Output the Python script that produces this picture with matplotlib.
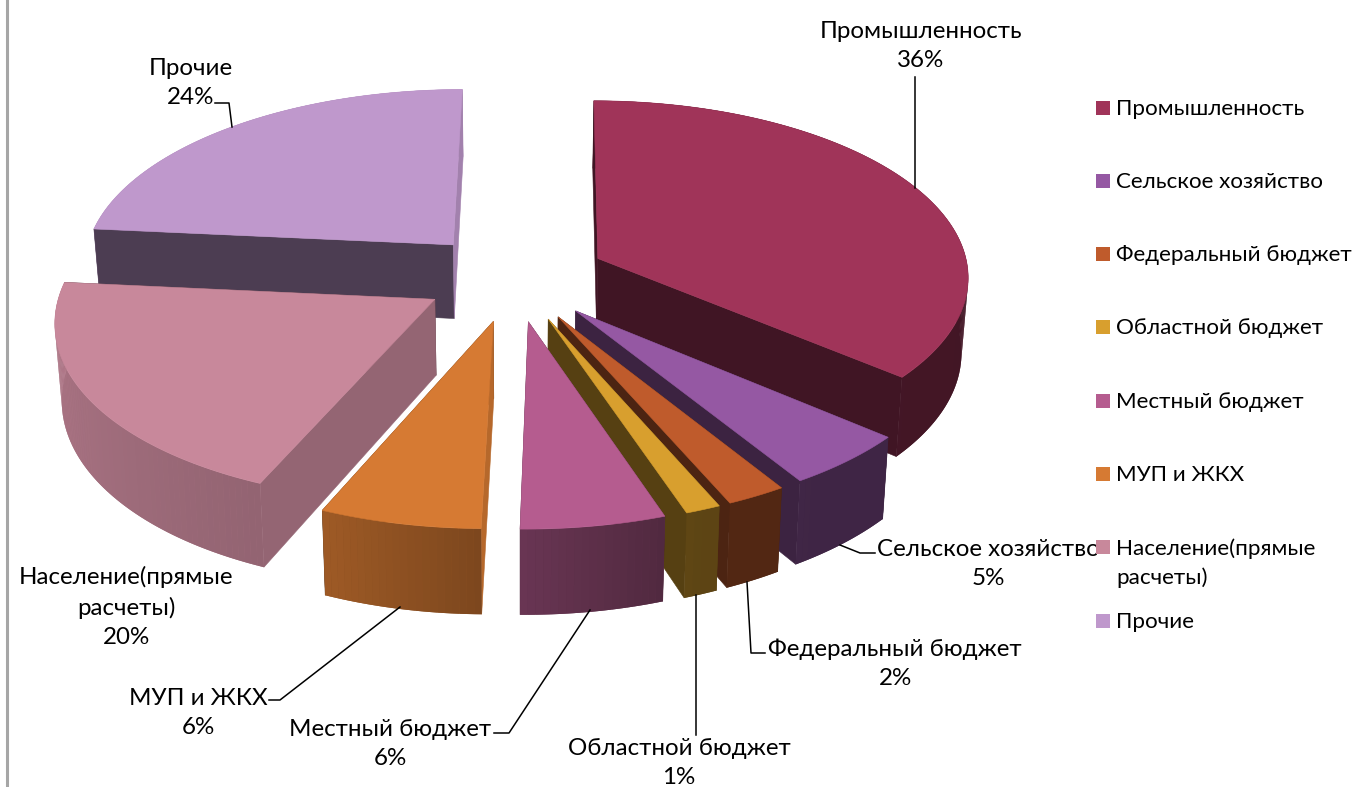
import numpy as np
import matplotlib
matplotlib.use("Agg")
import matplotlib.pyplot as plt
from matplotlib.patches import Polygon, Rectangle

plt.rcParams['font.family'] = ['Lato', 'Noto Sans', 'DejaVu Sans']

# data
names = ["Промышленность", "Сельское хозяйство", "Федеральный бюджет", "Областной бюджет",
         "Местный бюджет", "МУП и ЖКХ", "Население(прямые\nрасчеты)", "Прочие"]
values = [36.1, 4.9, 2.3, 1.35, 5.55, 6.2, 20.1, 23.5]
colors = ["#a03459", "#9558a3", "#bf5b2c", "#d89f2e", "#b55c8f", "#d67a33", "#c8889b", "#bf98cc"]

# 3d look of the pie
cx, cy = 514, 277
R, Ry = 372, 177
persp = 0.1
shear = 4
depth = 75
explode = [0.25, 0.25, 0.25, 0.25, 0.25, 0.25, 0.243, 0.25]
draw_order = [7, 0, 6, 1, 2, 3, 5, 4]
start_wall_shade = {5: 0.85, 6: 0.74}
end_wall_shade = {7: 0.85}


def project(X, Y, down=0.0):
    w = 1 + persp * Y
    sx = cx + (R * X + shear * Y) / w
    sy = cy - Ry * Y / w
    if down:
        sx = 520 + (sx - 520) * 0.985
        sy = sy + depth / w
    return sx, sy


def rim_shade(deg):
    return np.interp(deg, [90, 158, 180, 201, 270, 360], [0.41, 0.43, 0.58, 0.73, 0.88, 0.88])


def shaded(col, k):
    return tuple(np.array(matplotlib.colors.to_rgb(col)) * k)


fig = plt.figure(figsize=(13.55, 7.87), dpi=100)
ax = fig.add_axes([0, 0, 1, 1])
ax.set_xlim(0, 1355)
ax.set_ylim(787, 0)
ax.axis("off")

ax.plot([7, 7], [0, 787], color="#a6a6a6", lw=2.2)

edges = np.concatenate([[0], np.cumsum(values)]) / sum(values) * 360.0


def add_face(pts, col, z, lw=0.4):
    ax.add_patch(Polygon(pts, closed=True, facecolor=col, edgecolor=col if lw else "none", lw=lw, zorder=z))


def add_rim(xs, ys, th, col, z, front):
    # solid piece underneath so the gradient strips leave no seams
    idx = [j for j in range(len(th)) if (np.cos(th[j]) < 0.02) == front or (j > 0 and (np.cos(th[j - 1]) < 0.02) == front)]
    if len(idx) < 2:
        return
    pts = [project(xs[j], ys[j]) for j in idx] + [project(xs[j], ys[j], 1) for j in idx[::-1]]
    add_face(pts, shaded(col, rim_shade(np.degrees(th[idx].mean()))), z, lw=0)
    for j, k in zip(idx[:-1], idx[1:]):
        add_face([project(xs[j], ys[j]), project(xs[k], ys[k]),
                  project(xs[k], ys[k], 1), project(xs[j], ys[j], 1)],
                 shaded(col, rim_shade(np.degrees(th[j]))), z, lw=0)


for order, i in enumerate(draw_order):
    a0, a1 = edges[i], edges[i + 1]
    mid = np.radians((a0 + a1) / 2)
    ox, oy = explode[i] * np.sin(mid), explode[i] * np.cos(mid)
    th = np.radians(np.linspace(a0, a1, max(int(a1 - a0), 2) + 1))
    xs, ys = ox + np.sin(th), oy + np.cos(th)
    col = colors[i]
    z = 2 + order
    top = [project(ox, oy)] + [project(x, y) for x, y in zip(xs, ys)]

    add_rim(xs, ys, th, col, z, False)
    start_wall = [project(ox, oy), project(xs[0], ys[0]), project(xs[0], ys[0], 1), project(ox, oy, 1)]
    end_wall = [project(ox, oy), project(xs[-1], ys[-1]), project(xs[-1], ys[-1], 1), project(ox, oy, 1)]
    walls = [(start_wall, start_wall_shade.get(i, 0.4)), (end_wall, end_wall_shade.get(i, 0.4))]
    if i in (5, 6):
        walls = walls[::-1]
    for pts, k in walls:
        add_face(pts, shaded(col, k), z)
    add_rim(xs, ys, th, col, z, True)
    add_face(top, col, z)

# data labels: text lines, then leader lines
label_pos = [(921, 46), (988, 564), (895, 664), (679, 763), (390, 744), (198, 713), (126, 607), (191, 83)]
for name, v, (x, y) in zip(names, values, label_pos):
    ax.text(x, y, f"{name}\n{round(v)}%", ha="center", va="center", fontsize=17.35, color="black",
            linespacing=1.48, zorder=30)

leaders = [([915, 915], [77, 188]),
           ([840, 860, 875], [545, 553, 553]),
           ([747, 751, 765], [582, 653, 653]),
           ([696, 696], [595, 735]),
           ([590, 509, 494], [610, 733, 733]),
           ([400, 280, 269], [607, 700, 700]),
           ([232, 229, 215], [127, 103, 103])]
for lx, ly in leaders:
    ax.plot(lx, ly, color="black", lw=1.1, zorder=29)

# legend
ax.add_patch(Rectangle((1097, 90), 258, 560, facecolor="white", edgecolor="none", zorder=31))
legend_y = [108, 181, 254, 327, 401, 474, 547, 621]
for name, col, y in zip(names, colors, legend_y):
    ax.add_patch(Rectangle((1096, y - 7), 14, 14, facecolor=col, edgecolor="none", zorder=32))
    ax.text(1116, y + 1 + 15 * name.count("\n"), name, ha="left", va="center",
            fontsize=16.1, color="black", linespacing=1.53, zorder=32)

fig.savefig("out.png", dpi=100)
